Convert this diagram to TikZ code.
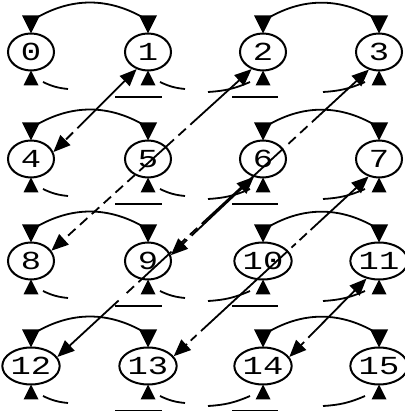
\documentclass[tikz,border=0pt]{standalone}
\usepackage{fontspec}
\newfontfamily\lblfont[FakeStretch=1.3]{Liberation Mono}
\usetikzlibrary{arrows.meta,calc,shapes.geometric}
\begin{document}
\begin{tikzpicture}[x=1pt,y=1pt,
  pe/.style={draw,line width=2pt,ellipse,minimum width=46pt,minimum height=37pt,inner sep=0pt,outer sep=0pt,font=\lblfont\fontsize{26}{26}\selectfont},
  wire/.style={line width=1.8pt},
  tip/.style={-{Triangle[length=17pt,width=14pt]},shorten >=1pt},
  dsh/.style={dash pattern=on 10pt off 6pt}]
\useasboundingbox (0,0) rectangle (404,411);
% nodes
\node[pe] (n0) at (31,359) {0};
\node[pe] (n1) at (148,359) {1};
\node[pe] (n2) at (263,359) {2};
\node[pe] (n3) at (379,359) {3};
\node[pe] (n4) at (31,252) {4};
\node[pe] (n5) at (148,252) {5};
\node[pe] (n6) at (263,252) {6};
\node[pe] (n7) at (379,252) {7};
\node[pe] (n8) at (31,150) {8};
\node[pe] (n9) at (148,150) {9};
\node[pe] (n10) at (263,150) {10};
\node[pe] (n11) at (379,150) {11};
\node[pe] (n12) at (31,45) {12};
\node[pe] (n13) at (148,45) {13};
\node[pe] (n14) at (263,45) {14};
\node[pe] (n15) at (379,45) {15};
% triangles
\foreach \n in {0,...,15} {
  \fill (n\n.north) -- ++(-9,18) -- ++(18,0) -- cycle;
  \fill (n\n.south) -- ++(-7.5,-15) -- ++(15,0) -- cycle;
}
% top arcs
\foreach \a/\b in {0/1,2/3,4/5,6/7,8/9,10/11,12/13,14/15}
  \draw[wire] ([shift={(1,13)}]n\a.north) to[out=32,in=148] ([shift={(0,13)}]n\b.north);
% bottom fragments
\foreach \a/\b/\c/\d in {0/1/2/3,4/5/6/7,8/9/10/11,12/13/14/15} {
  \draw[wire] ($(n\a)+(12,-30)$) to[bend right=10] ($(n\a)+(37,-37)$);
  \draw[wire] ($(n\b)+(12,-30)$) to[bend right=10] ($(n\b)+(37,-37)$);
  \draw[wire] ($(n\b)+(-33,-45)$) -- ($(n\b)+(14,-45)$);
  \draw[wire] ($(n\c)+(-55,-40)$) to[bend right=10] ($(n\c)+(-13,-30)$);
  \draw[wire] ($(n\c)+(-31,-45)$) -- ($(n\c)+(15,-45)$);
  \draw[wire] ($(n\d)+(-56,-40)$) to[bend right=10] ($(n\d)+(-14,-30)$);
}
% transposition exchanges
\coordinate (s14) at ($(n4.16)!0.375!(n1.237)$);
\draw[wire,tip] (s14) -- (n1.237);
\draw[wire,tip,dsh] (s14) -- (n4.16);
\coordinate (s28) at ($(n8.26)!0.729!(n2.237)$);
\draw[wire,tip] (s28) -- (n2.237);
\draw[wire,tip,dash pattern=on 10pt off 6pt on 10pt off 6pt on 47pt off 6pt on 10pt off 6pt on 10pt off 6pt on 10pt off 6pt on 10pt off 6pt on 10pt off 6pt on 10pt off 6pt on 10pt off 6pt on 10pt off 6pt] (s28) -- (n8.26);
\coordinate (s312) at ($(n12.18)!0.839!(n3.241)$);
\draw[wire,tip] (s312) -- (n3.241);
\draw[wire,tip,dash pattern=on 10pt off 6pt on 10pt off 6pt on 10pt off 7pt on 111pt off 6pt on 10pt off 6pt on 10pt off 9pt on 45pt off 6pt on 10pt off 11pt on 200pt off 1pt] (s312) -- (n12.18);
\coordinate (s69) at ($(n9.13)!0.34!(n6.244)$);
\draw[wire,tip] (s69) -- (n6.244);
\draw[wire,tip,dsh] (s69) -- (n9.13);
\coordinate (s713) at ($(n13.20)!0.738!(n7.240)$);
\draw[wire,tip] (s713) -- (n7.240);
\draw[wire,tip,dash pattern=on 10pt off 5pt on 10pt off 5pt on 6pt off 5pt on 118pt off 6pt on 8pt off 5pt on 8pt off 5pt on 30pt off 1pt] (s713) -- (n13.20);
\coordinate (s1114) at ($(n14.18)!0.34!(n11.235)$);
\draw[wire,tip] (s1114) -- (n11.235);
\draw[wire,tip,dsh] (s1114) -- (n14.18);
\end{tikzpicture}
\end{document}
